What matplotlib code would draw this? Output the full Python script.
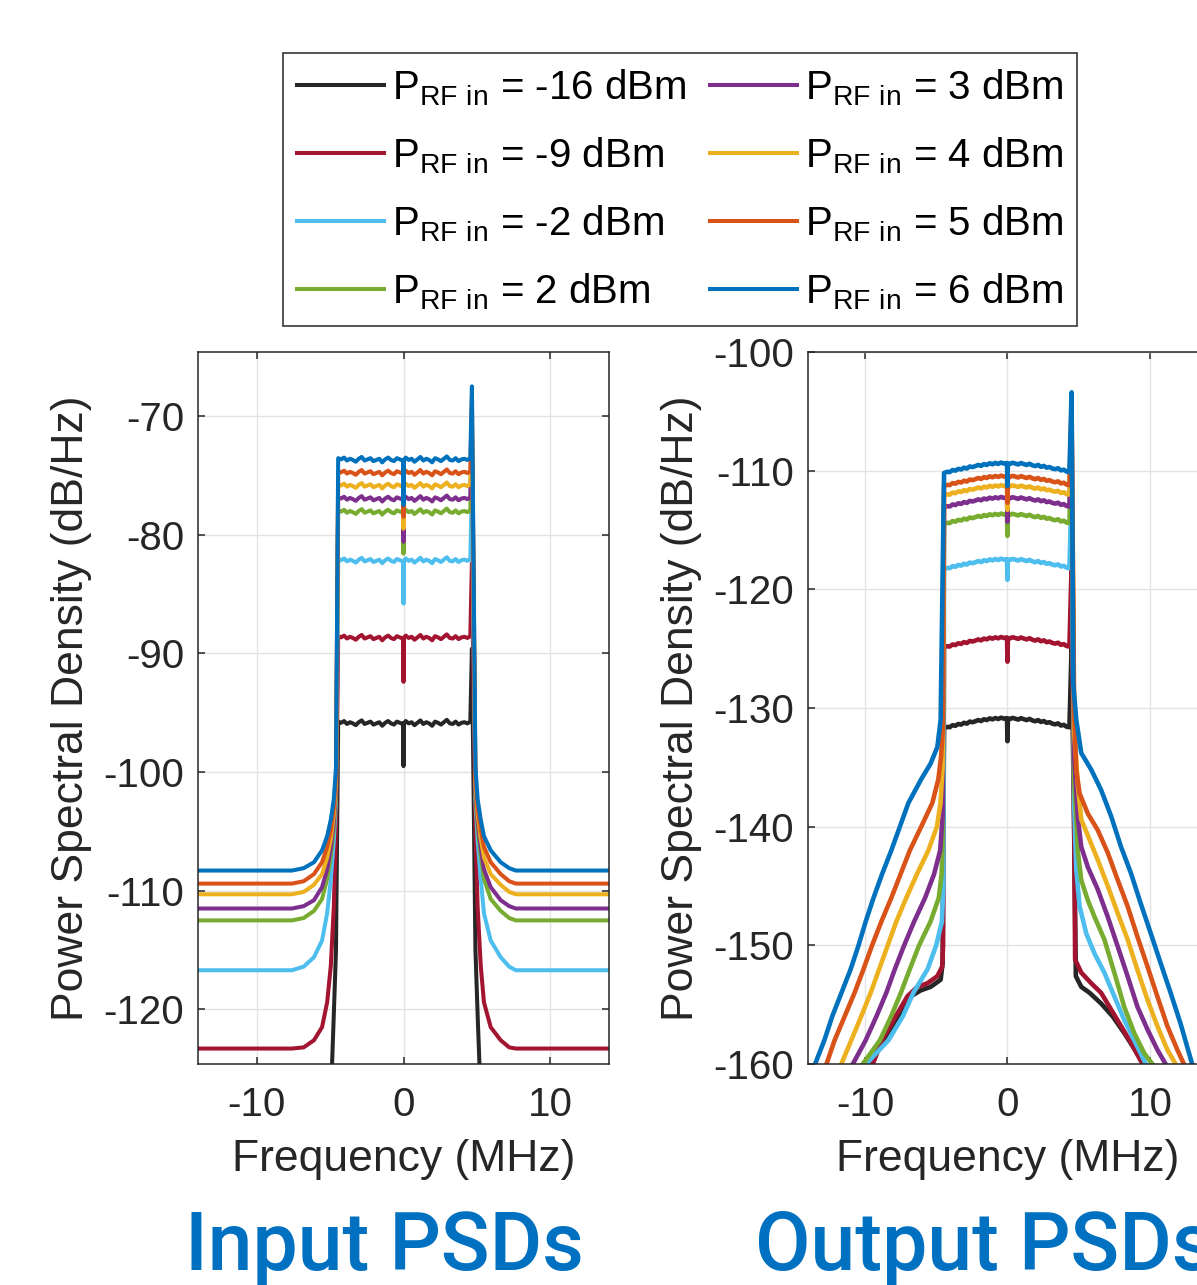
import numpy as np
import matplotlib
matplotlib.use("Agg")
import matplotlib.pyplot as plt

plt.rcParams['font.family'] = ['Liberation Sans', 'DejaVu Sans']
plt.rcParams['mathtext.fontset'] = 'custom'
plt.rcParams['mathtext.rm'] = 'Liberation Sans'
plt.rcParams['axes.unicode_minus'] = False

# RF input power of each trace (dBm) and the MATLAB line colours used for them
p_rf_in = [-16, -9, -2, 2, 3, 4, 5, 6]
colors = ['#262626', '#A2142F', '#4DBEEE', '#77AC30', '#7E2F8E', '#EDB120', '#D95319', '#0072BD']

# ---------------- input PSDs ----------------
in_level = [-95.9, -88.7, -82.2, -78.1, -77.0, -75.9, -74.8, -73.7]   # in-band level (dB/Hz)
in_dip = [-3.6, -3.7, -3.6, -3.5, -3.6, -3.6, -3.7, -3.8]             # notch at DC
in_spike = [6.3, 6.3, 6.2, 6.3, 6.3, 6.3, 6.3, 6.2]                   # tone at upper band edge
in_spike_freq = 4.66
in_band_freq = np.linspace(-4.45, 4.55, 46)
in_ripple = [0.15, 0.05, 0.20, -0.05, 0.10, 0.00, -0.15, 0.10, 0.25, -0.05, 0.05, 0.15,
             -0.10, 0.00, 0.10, -0.20, 0.05, 0.20, 0.00, -0.10, 0.15, 0.05, -0.05,
             0.20, 0.00, 0.10, -0.15, 0.05, 0.25, -0.05, 0.10, 0.00, -0.20, 0.15, 0.05,
             -0.10, 0.10, 0.30, 0.00, -0.05, 0.15, -0.10, 0.05, 0.10, 0.00, 0.15]
# skirt + noise floor, lower side (far -> near band); upper side uses the same levels mirrored
in_skirt_freq_lo = [-14.5, -7.6, -6.8, -6.1, -5.55, -5.2, -4.95, -4.75, -4.6]
in_skirt_freq_hi = [4.9, 5.05, 5.26, 5.48, 5.94, 6.62, 7.2, 7.65, 14.5]
in_skirt = [
    [-140.0, -140.0, -140.0, -140.0, -140.0, -135.0, -127.5, -120.5, -115.0],
    [-123.3, -123.3, -123.2, -122.6, -121.5, -119.4, -116.3, -111.4, -105.0],
    [-116.7, -116.7, -116.4, -115.6, -114.2, -111.9, -109.0, -105.8, -102.5],
    [-112.5, -112.5, -112.3, -111.7, -110.7, -109.0, -107.0, -104.7, -102.0],
    [-111.5, -111.5, -111.3, -110.8, -109.7, -108.2, -106.4, -104.2, -101.5],
    [-110.3, -110.3, -110.1, -109.5, -108.6, -107.2, -105.6, -103.6, -101.0],
    [-109.4, -109.4, -109.2, -108.6, -107.6, -106.3, -104.9, -103.0, -100.5],
    [-108.3, -108.3, -108.1, -107.6, -106.6, -105.4, -104.0, -102.3, -99.6],
]

# ---------------- output PSDs ----------------
out_level = [-130.9, -124.1, -117.5, -113.7, -112.3, -111.3, -110.5, -109.4]
out_dip = [-1.9, -2.0, -1.7, -1.8, -2.0, -2.0, -2.2, -1.9]
out_spike = [6.0, 6.0, 6.0, 6.0, 6.0, 6.0, 6.0, 6.0]
out_spike_freq = 4.5
out_band_freq = np.linspace(-4.45, 4.35, 45)
out_profile = [-0.80, -0.70, -0.72, -0.55, -0.60, -0.45, -0.50, -0.35, -0.42, -0.25, -0.30,
               -0.22, -0.12, -0.20, -0.05, -0.12, 0.02, -0.06, 0.05, -0.03, 0.08, 0.00, 0.04,
               -0.04, 0.06, 0.00, -0.08, 0.04, -0.05, -0.12, -0.02, -0.15, -0.22, -0.12, -0.28,
               -0.20, -0.35, -0.30, -0.42, -0.48, -0.40, -0.58, -0.52, -0.68, -0.72]
# spectral regrowth, lower side (far -> near band)
out_lo_freq = [
    [-9.5, -9.1, -8.41, -7.48, -6.78, -6.09, -5.39, -4.69, -4.55],
    [-9.45, -8.8, -7.85, -7.02, -6.32, -5.62, -4.92, -4.58, -4.52],
    [-9.92, -8.35, -7.35, -6.6, -5.6, -5.0, -4.6, -4.5],
    [-10.15, -8.95, -8.17, -7.48, -6.85, -6.2, -5.4, -4.82, -4.62, -4.55],
    [-10.85, -9.95, -9.2, -8.5, -7.9, -7.25, -6.55, -5.78, -5.15, -4.72, -4.55],
    [-11.66, -10.96, -10.27, -9.6, -9.0, -8.4, -7.8, -7.1, -6.35, -5.55, -4.95, -4.7, -4.55],
    [-12.7, -12.13, -11.43, -10.73, -10.1, -9.5, -8.85, -8.15, -7.5, -6.85, -6.05, -5.27,
     -4.85, -4.65, -4.55],
    [-13.5, -12.85, -12.3, -11.65, -11.0, -10.45, -9.95, -9.4, -8.8, -8.15, -7.55, -6.95,
     -6.05, -5.4, -4.92, -4.69],
]
out_lo_psd = [
    [-160, -158.8, -157.4, -155.7, -154.3, -153.8, -153.5, -152.9, -151.5],
    [-160, -158, -156, -154.3, -153.5, -153.2, -152.6, -151.8, -150],
    [-160, -158, -156, -154, -152, -150, -148, -145],
    [-160, -158, -156, -154, -152, -150, -148, -146, -144, -141],
    [-160, -158, -156, -154, -152, -150, -148, -146, -144, -142, -139],
    [-160, -158, -156, -154, -152, -150, -148, -146, -144, -142, -140, -138, -135],
    [-160, -158, -156, -154, -152, -150, -148, -146, -144, -142, -140, -138, -136, -134, -132],
    [-160, -158, -156, -154, -152, -150, -148, -146, -144, -142, -140, -138, -136, -134.7,
     -133.3, -131.0],
]
# spectral regrowth, upper side (near band -> far)
out_hi_freq = [
    [4.68, 4.8, 5.18, 5.76, 6.57, 7.39, 8.2, 9.1, 9.6],
    [4.68, 4.75, 5.18, 5.88, 6.57, 7.27, 7.97, 8.66, 9.48],
    [4.68, 4.83, 5.06, 5.53, 6.11, 6.8, 7.5, 8.2, 8.9, 9.71],
    [4.68, 4.95, 5.18, 5.64, 6.11, 6.8, 7.5, 8.2, 8.9, 9.6, 10.17],
    [4.68, 4.95, 5.18, 5.64, 6.34, 7.04, 7.74, 8.43, 9.13, 9.83, 10.52, 11.1],
    [4.68, 4.95, 5.18, 5.76, 6.34, 7.04, 7.74, 8.43, 9.13, 9.83, 10.52, 11.22, 11.8],
    [4.68, 4.83, 5.06, 5.64, 6.34, 7.04, 7.74, 8.43, 9.13, 9.83, 10.52, 11.22, 11.92, 12.38],
    [4.62, 4.83, 5.18, 5.88, 6.57, 7.27, 7.97, 8.66, 9.36, 10.06, 10.75, 11.45, 12.15, 12.96],
]
out_hi_psd = [
    [-140, -152.6, -153.5, -154.0, -154.9, -156.0, -157.4, -159.1, -160],
    [-140, -151.2, -152.3, -153.2, -154.0, -155.4, -156.8, -158.2, -160],
    [-138, -143.6, -146.7, -149.0, -150.7, -152.3, -154.3, -156.3, -158.0, -160],
    [-136, -142.2, -144.5, -146.2, -147.6, -149.5, -152.3, -155.2, -157.4, -159.1, -160],
    [-134, -139.4, -141.7, -143.4, -145.3, -147.6, -150.1, -152.6, -155.2, -157.1, -158.8, -160],
    [-132, -136.6, -139.4, -141.1, -142.8, -145.0, -147.3, -149.5, -152.1, -154.6, -156.8,
     -158.8, -160],
    [-130, -135.2, -137.2, -138.9, -140.3, -142.2, -144.5, -146.7, -149.3, -151.8, -154.3,
     -156.8, -158.8, -160],
    [-128, -131.0, -133.8, -135.2, -136.9, -139.1, -141.7, -143.9, -146.5, -149.0, -151.5,
     -154.0, -156.6, -160],
]


def band_with_notch(freq, level, profile, dip):
    band = level + np.array(profile)
    neg = freq < 0
    f = np.concatenate([freq[neg], [-0.03, 0.0, 0.03], freq[~neg]])
    p = np.concatenate([band[neg], [level, level + dip, level], band[~neg]])
    return f, p


def input_trace(i):
    bf, bp = band_with_notch(in_band_freq, in_level[i], in_ripple, in_dip[i])
    f = np.concatenate([in_skirt_freq_lo, bf, [in_spike_freq], in_skirt_freq_hi])
    p = np.concatenate([in_skirt[i], bp, [in_level[i] + in_spike[i]], in_skirt[i][::-1]])
    return f, p


def output_trace(i):
    bf, bp = band_with_notch(out_band_freq, out_level[i], out_profile, out_dip[i])
    f = np.concatenate([out_lo_freq[i], bf, [out_spike_freq], out_hi_freq[i]])
    p = np.concatenate([out_lo_psd[i], bp, [out_level[i] + out_spike[i]], out_hi_psd[i]])
    return f, p


def style_axes(ax, ylim, yticks):
    ax.set_xlim(-14, 14)
    ax.set_ylim(*ylim)
    ax.set_xticks([-10, 0, 10])
    ax.set_yticks(yticks)
    ax.grid(True, color='#e3e3e3', linewidth=1.0)
    ax.set_axisbelow(True)
    ax.tick_params(direction='in', top=True, right=True, length=5, width=1.1,
                   labelsize=29, colors='#262626')
    ax.tick_params(axis='x', pad=16)
    ax.tick_params(axis='y', pad=10)
    for s in ax.spines.values():
        s.set_color('#262626')
        s.set_linewidth(1.1)
    ax.set_xlabel('Frequency (MHz)', fontsize=32, color='#262626', labelpad=11)
    ax.set_ylabel('Power Spectral Density (dB/Hz)', fontsize=32, color='#262626', labelpad=8)


fig = plt.figure(figsize=(11.97, 12.85), dpi=100)
ax_in = fig.add_axes([0.1654, 0.172, 0.3434, 0.5541])
ax_out = fig.add_axes([0.675, 0.172, 0.3333, 0.5541])

lines = []
for i in range(len(p_rf_in)):
    f, p = input_trace(i)
    ln, = ax_in.plot(f, p, color=colors[i], linewidth=2.9)
    lines.append(ln)
    f, p = output_trace(i)
    ax_out.plot(f, p, color=colors[i], linewidth=3.3)

style_axes(ax_in, (-124.6, -64.6), [-120, -110, -100, -90, -80, -70])
style_axes(ax_out, (-160, -100), [-160, -150, -140, -130, -120, -110, -100])

labels = [r'P$_{\mathregular{RF\ in}}$ = %d dBm' % p for p in p_rf_in]
leg = fig.legend(lines, labels, ncol=2, loc='upper left', bbox_to_anchor=(0.2364, 0.9588),
                 fontsize=29, frameon=True, fancybox=False, framealpha=1,
                 edgecolor='#262626', handlelength=2.15, handletextpad=0.2,
                 columnspacing=0.6, borderpad=0.35, labelspacing=0.68, borderaxespad=0)
leg.get_frame().set_linewidth(1.1)
for ln in leg.get_lines():
    ln.set_linewidth(2.9)

title_kw = dict(va='baseline', fontsize=58, fontweight='medium', family='Roboto', color='#0070C0')
fig.text(0.3212, 0.0115, 'Input PSDs', ha='center', **title_kw)
fig.text(0.6307, 0.0115, 'Output PSDs', ha='left', **title_kw)

fig.savefig('out.png', dpi=100, facecolor='white')
